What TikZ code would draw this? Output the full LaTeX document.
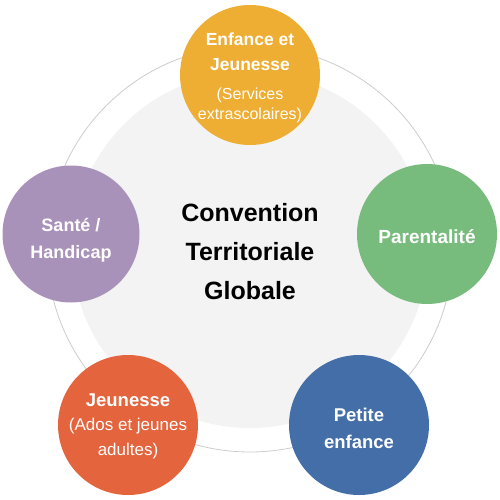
\documentclass[tikz,border=0pt]{standalone}
\usepackage{fontspec}
\setmainfont{Liberation Sans}
\definecolor{jaune}{HTML}{EDAE33}
\definecolor{vert}{HTML}{77BC7D}
\definecolor{violet}{HTML}{A992BA}
\definecolor{orange}{HTML}{E3643D}
\definecolor{bleu}{HTML}{436EA8}
\definecolor{fond}{HTML}{F3F3F3}
\definecolor{contour}{HTML}{CCCCCC}

\begin{document}
\begin{tikzpicture}[x=1pt, y=-1pt,
  bulle/.style={circle, inner sep=0pt, minimum size=140pt},
  texte/.style={text=white, align=center, inner sep=0pt}]
\useasboundingbox (0,0) rectangle (500,500);
% 外側の円
	\draw[contour, line width=0.8pt] (250,249) circle (203pt); %
% 中央
	\node[bulle, fill=fond, minimum size=356pt] (ctg) at (250,250) {};
	\node[texte, text=black, font=\bfseries\fontsize{25}{39}\selectfont] (ctg-t) at ([yshift=-2pt]ctg.center)
	  {Convention\\Territoriale\\Globale};
% 上
	\node[bulle, fill=jaune] (enfance) at (250,75) {};
	\node[texte, font=\bfseries\fontsize{17.5}{25}\selectfont] (enfance-t) at ([yshift=-3pt]enfance.center)
	  {Enfance et\\Jeunesse\\[4pt]{\mdseries\fontsize{16}{20}\selectfont (Services}\\[-5pt]{\mdseries\fontsize{16}{20}\selectfont extrascolaires)}};
% 右
	\node[bulle, fill=vert] (parent) at (427,234) {};
	\node[texte, font=\bfseries\fontsize{19}{26}\selectfont] (parent-t) at ([yshift=-3pt]parent.center) {Parentalité};
% 右下
	\node[bulle, fill=bleu] (petite) at (359,425) {};
	\node[texte, font=\bfseries\fontsize{18.5}{27}\selectfont] (petite-t) at ([yshift=-3pt]petite.center) {Petite\\enfance};
% 左下
	\node[bulle, fill=orange] (jeunesse) at (128,425) {};
	\node[texte, font=\bfseries\fontsize{18.5}{24.5}\selectfont] (jeunesse-t) at ([yshift=-1pt]jeunesse.center)
	  {Jeunesse\\{\mdseries\fontsize{17}{24}\selectfont (Ados et jeunes}\\{\mdseries\fontsize{17}{24}\selectfont adultes)}};
% 左
	\node[bulle, fill=violet, minimum size=137pt] (sante) at (71,234) {};
	\node[texte, font=\bfseries\fontsize{18}{27}\selectfont] (sante-t) at ([yshift=-6pt]sante.center) {Santé /\\Handicap};
\end{tikzpicture}
\end{document}
